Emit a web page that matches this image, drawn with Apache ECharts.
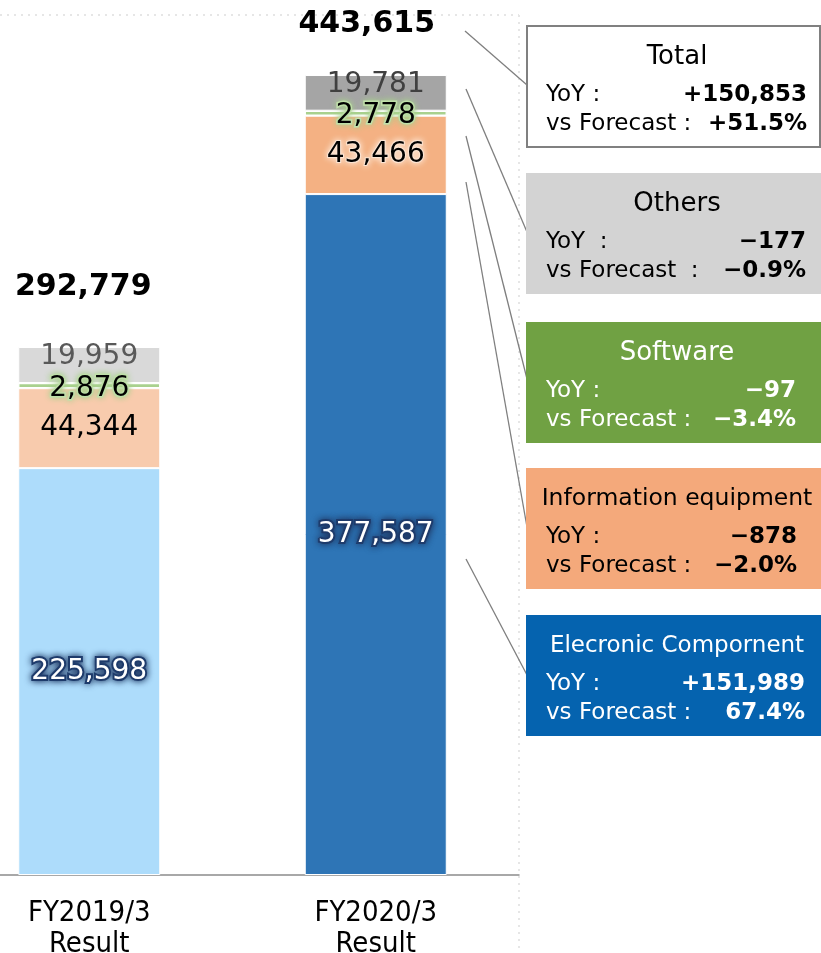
<!DOCTYPE html>
<html>
<head>
<meta charset="utf-8">
<script src="https://cdn.jsdelivr.net/npm/echarts@6/dist/echarts.min.js"></script>
<style>
  html, body { margin: 0; padding: 0; background: #fff; }
  #myChart { width: 821px; height: 953px; }
</style>
</head>
<body>
<div id="myChart"></div>
<script>
// categories and values
var years = ['FY2019/3\nResult', 'FY2020/3\nResult'];
var electronic = [225598, 377587];
var information = [44344, 43466];
var software = [2876, 2778];
var others = [19959, 19781];
var totals = [292779, 443615];

// side boxes
var boxTitles = ['Total', 'Others', 'Software', 'Information equipment', 'Elecronic Compornent'];
var yoyLabels = ['YoY :', 'YoY  :', 'YoY :', 'YoY :', 'YoY :'];
var fcLabels = ['vs Forecast :', 'vs Forecast  :', 'vs Forecast :', 'vs Forecast :', 'vs Forecast :'];
var yoyValues = ['+150,853', '\u2212177', '\u221297', '\u2212878', '+151,989'];
var fcValues = ['+51.5%', '\u22120.9%', '\u22123.4%', '\u22122.0%', '67.4%'];

var barColors = {
  electronic: ['#addcfb', '#2e75b6'],
  information: ['#f8cbad', '#f4b183'],
  software: ['#a9d18e', '#a9d18e'],
  others: ['#d9d9d9', '#a5a5a5']
};

var FONT = "'DejaVu Sans', Verdana, sans-serif";

function makeData(values, colors) {
  var arr = [];
  for (var i = 0; i < values.length; i++) {
    arr.push({ value: values[i], itemStyle: { color: colors[i] } });
  }
  return arr;
}

function fmt(p) { return String(p.value).replace(/\B(?=(\d{3})+(?!\d))/g, ','); }

function segLabel(opts) {
  var l = { show: true, position: 'inside', fontFamily: FONT, fontSize: 28, formatter: fmt };
  for (var k in opts) l[k] = opts[k];
  return l;
}

var dom = document.getElementById('myChart');
var myChart = echarts.init(dom);

var totalOffsets = [[-6, -40], [-9, -31]];
var totalData = [];
for (var i = 0; i < totals.length; i++) {
  totalData.push({ value: totals[i], label: { offset: totalOffsets[i] } });
}

var infoData = makeData(information, barColors.information);
infoData[1].label = { textShadowColor: '#fde9d9', textShadowBlur: 6, textBorderColor: '#fbe3d1', textBorderWidth: 2 };
var othersData = makeData(others, barColors.others);
othersData[0].label = { color: '#595959' };
othersData[1].label = { color: '#404040' };

// box graphics
var boxTops = [26, 173, 322, 468, 615];
var boxFills = ['#ffffff', '#d3d3d3', '#70a143', '#f4a97b', '#0563af'];
var boxText = ['#000', '#000', '#fff', '#000', '#fff'];
var valueRight = [807, 806, 796, 797, 805];
var titleSize = [26, 26, 26, 23.5, 23];

var graphics = [
  { type: 'line', shape: { x1: 0, y1: 15, x2: 519, y2: 15 }, style: { stroke: '#e6e6e6', lineWidth: 2, lineDash: [2, 5] }, silent: true },
  { type: 'line', shape: { x1: 519, y1: 15, x2: 519, y2: 953 }, style: { stroke: '#e6e6e6', lineWidth: 2, lineDash: [2, 5] }, silent: true }
];
var connectors = [
  [465, 31, 527, 85],
  [466, 89, 527, 232],
  [466, 136, 527, 379],
  [466, 182, 527, 527],
  [466, 559, 527, 675]
];
connectors.forEach(function (c) {
  graphics.push({ type: 'line', shape: { x1: c[0], y1: c[1], x2: c[2], y2: c[3] }, style: { stroke: '#7f7f7f', lineWidth: 1.3 }, silent: true });
});
boxTitles.forEach(function (title, b) {
  var boxTop = boxTops[b];
  var rs = { fill: boxFills[b], lineWidth: 2 };
  if (b === 0) rs.stroke = '#808080';
  graphics.push({
    type: 'rect',
    shape: { x: b === 0 ? 527 : 526, y: boxTop, width: b === 0 ? 293 : 295, height: 121 },
    style: rs, silent: true
  });
  graphics.push({
    type: 'text', x: 677, y: boxTop + 31,
    style: { text: title, font: titleSize[b] + 'px ' + FONT, fill: boxText[b], textAlign: 'center', textVerticalAlign: 'middle' },
    silent: true
  });
  var rows = [[yoyLabels[b], yoyValues[b], boxTop + 69], [fcLabels[b], fcValues[b], boxTop + 98]];
  rows.forEach(function (row) {
    graphics.push({
      type: 'text', x: 546, y: row[2],
      style: { text: row[0], font: '23px ' + FONT, fill: boxText[b], textAlign: 'left', textVerticalAlign: 'middle' },
      silent: true
    });
    graphics.push({
      type: 'text', x: valueRight[b], y: row[2],
      style: { text: row[1], font: 'bold 23px ' + FONT, fill: boxText[b], textAlign: 'right', textVerticalAlign: 'middle' },
      silent: true
    });
  });
});

var option = {
  animation: false,
  grid: { left: -54, width: 573, top: 9.4, bottom: 78, outerBoundsMode: 'none' },
  xAxis: {
    type: 'category',
    data: years,
    axisTick: { show: false },
    axisLine: { lineStyle: { color: '#8c8c8c', width: 1.5 } },
    axisLabel: { color: '#000', fontSize: 29, lineHeight: 31, margin: 23,
      fontFamily: "'DejaVu Sans Condensed', 'Liberation Sans Narrow', sans-serif" }
  },
  yAxis: { type: 'value', min: 0, max: 480000, show: false, splitLine: { show: false } },
  series: [
    { name: 'Elecronic Compornent', type: 'bar', stack: 'sales', barWidth: 142,
      itemStyle: { borderColor: '#fff', borderWidth: 1 },
      data: makeData(electronic, barColors.electronic),
      label: segLabel({ color: '#fff', textBorderColor: '#1f3d6e', textBorderWidth: 4, textShadowColor: '#1f3864', textShadowBlur: 7 }) },
    { name: 'Information equipment', type: 'bar', stack: 'sales', barWidth: 142,
      itemStyle: { borderColor: '#fff', borderWidth: 1 },
      data: infoData, label: segLabel({ color: '#000' }) },
    { name: 'Software', type: 'bar', stack: 'sales', barWidth: 142,
      itemStyle: { borderColor: '#fff', borderWidth: 1.2 },
      data: makeData(software, barColors.software),
      label: segLabel({ color: '#000', offset: [0, 3], textBorderColor: '#c5e3b0', textBorderWidth: 3, textShadowColor: '#a9d18e', textShadowBlur: 6 }) },
    { name: 'Others', type: 'bar', stack: 'sales', barWidth: 142,
      itemStyle: { borderColor: '#fff', borderWidth: 1 },
      data: othersData, label: segLabel({ offset: [0, -8] }) },
    { name: 'Total', type: 'bar', barWidth: 142, barGap: '-100%', silent: true,
      itemStyle: { color: 'rgba(0,0,0,0)' }, data: totalData, z: 1,
      label: { show: true, position: 'top', distance: 5, fontFamily: FONT, fontSize: 30, fontWeight: 'bold', color: '#000', formatter: fmt } }
  ],
  graphic: graphics
};

myChart.setOption(option);
window.addEventListener('resize', myChart.resize);
</script>
</body>
</html>
